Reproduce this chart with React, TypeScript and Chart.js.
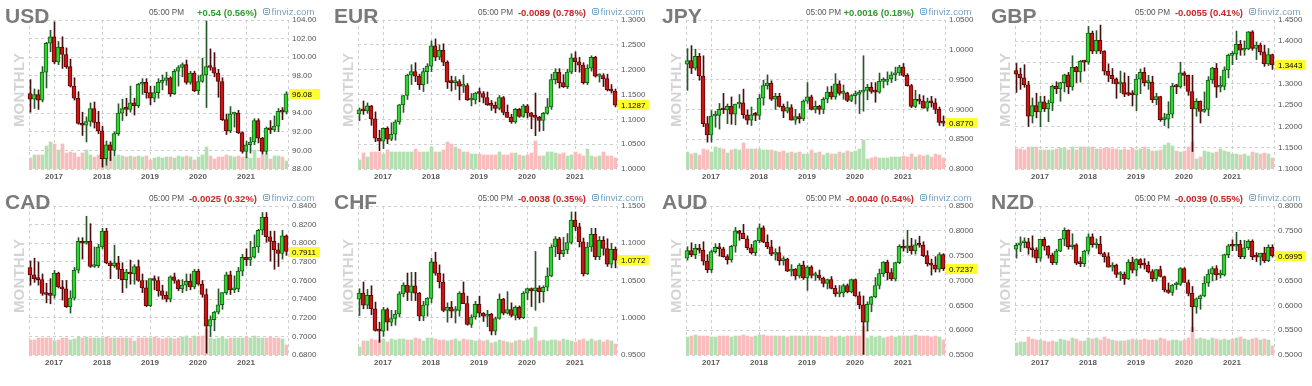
import React, { useEffect, useRef } from 'react';
import { Chart, registerables } from 'chart.js';

Chart.register(...registerables);

const FONT = "'Liberation Sans', Arial, Helvetica, sans-serif";
Chart.defaults.font.family = FONT;

// month index 0 = Jul 2016 ... 64 = Nov 2021
const YEAR_LABELS = ['2017', '2018', '2019', '2020', '2021'];
const YEAR_INDEX = [6, 18, 30, 42, 54];
const X_MIN = -0.25;
const X_MAX = 64.5;

const TICKERS = ['USD', 'EUR', 'JPY', 'GBP', 'CAD', 'CHF', 'AUD', 'NZD'];
const CHANGES = ['+0.54 (0.56%)', '-0.0089 (0.78%)', '+0.0016 (0.18%)', '-0.0055 (0.41%)', '-0.0025 (0.32%)', '-0.0038 (0.35%)', '-0.0040 (0.54%)', '-0.0039 (0.55%)'];
const CHANGE_UP = [true, false, true, false, false, false, false, false];
const LAST_TEXT = ['96.08', '1.1287', '0.8770', '1.3443', '0.7911', '1.0772', '0.7237', '0.6995'];
const DECIMALS = [2, 4, 4, 4, 4, 4, 4, 4];

const USD_TICKS = [88, 90, 92, 94, 96, 98, 100, 102, 104];
const EUR_TICKS = [1.0, 1.05, 1.1, 1.15, 1.2, 1.25, 1.3];
const JPY_TICKS = [0.8, 0.85, 0.9, 0.95, 1.0, 1.05];
const GBP_TICKS = [1.1, 1.15, 1.2, 1.25, 1.3, 1.35, 1.4, 1.45];
const CAD_TICKS = [0.68, 0.7, 0.72, 0.74, 0.76, 0.78, 0.8, 0.82, 0.84];
const CHF_TICKS = [0.95, 1.0, 1.05, 1.1, 1.15];
const AUD_TICKS = [0.55, 0.6, 0.65, 0.7, 0.75, 0.8, 0.85];
const NZD_TICKS = [0.5, 0.55, 0.6, 0.65, 0.7, 0.75, 0.8];

// [open, high, low, close] per month
const USD_OHLC = [
  [96.1, 97.6, 94.1, 95.5], [95.5, 96.6, 94.5, 96.0], [96.0, 96.5, 94.4, 95.4], [95.4, 99.0, 95.2, 98.4], [98.4, 101.6, 96.7, 101.5], [101.5, 102.9, 100.6, 102.2],
  [102.2, 103.8, 99.3, 99.5], [99.5, 101.7, 99.2, 101.1], [101.1, 102.2, 98.8, 100.3], [100.3, 101.0, 98.8, 99.0], [99.0, 99.8, 96.8, 96.9], [96.9, 97.8, 95.4, 95.6], [95.6, 96.3, 92.8, 92.9], [92.9, 94.1, 91.6, 92.7], [92.7, 93.6, 90.9, 93.1], [93.1, 95.1, 92.6, 94.5], [94.5, 95.2, 92.4, 93.0], [93.0, 94.2, 91.8, 92.1],
  [92.1, 92.6, 88.2, 89.1], [89.1, 91.0, 88.4, 90.6], [90.6, 90.9, 88.9, 90.0], [90.0, 92.0, 89.4, 91.8], [91.8, 95.0, 91.6, 94.0], [94.0, 95.5, 93.2, 94.5], [94.5, 95.6, 93.7, 94.4], [94.4, 96.9, 94.1, 95.1], [95.1, 95.6, 93.8, 94.8], [94.8, 97.2, 94.6, 97.1], [97.1, 97.7, 96.0, 97.3], [97.3, 97.7, 95.6, 96.2],
  [96.2, 96.9, 94.9, 95.6], [95.6, 96.9, 95.2, 96.2], [96.2, 97.7, 95.6, 97.3], [97.3, 98.1, 96.5, 97.5], [97.5, 98.4, 97.0, 97.8], [97.8, 97.9, 95.8, 96.1], [96.1, 98.7, 96.0, 98.5], [98.5, 99.1, 96.9, 98.9], [98.9, 99.4, 97.9, 99.2], [99.2, 99.7, 97.1, 97.3], [97.3, 98.5, 97.1, 98.3], [98.3, 98.5, 96.3, 96.4],
  [96.4, 98.0, 96.0, 97.4], [97.4, 99.9, 97.3, 98.1], [98.1, 103.9, 94.6, 99.0], [99.0, 100.9, 98.6, 98.9], [98.9, 100.5, 97.9, 98.3], [98.3, 98.7, 95.7, 97.4], [97.4, 97.8, 93.2, 93.3], [93.3, 93.9, 91.7, 92.1], [92.1, 94.7, 91.9, 93.9], [93.9, 94.1, 92.5, 94.0], [94.0, 94.3, 91.8, 91.9], [91.9, 92.0, 89.7, 89.9],
  [89.9, 91.0, 89.2, 90.6], [90.6, 91.4, 89.7, 90.9], [90.9, 93.4, 90.6, 93.2], [93.2, 93.4, 90.8, 91.3], [91.3, 91.4, 89.6, 89.9], [89.9, 92.5, 89.6, 92.4], [92.4, 93.2, 91.8, 92.2], [92.2, 93.7, 92.0, 92.6], [92.6, 94.5, 92.0, 94.2], [94.2, 94.6, 93.3, 94.1], [94.1, 96.3, 93.9, 96.08],
];
const EUR_OHLC = [
  [1.111, 1.123, 1.097, 1.119], [1.119, 1.137, 1.110, 1.117], [1.117, 1.133, 1.112, 1.127], [1.127, 1.128, 1.088, 1.101], [1.101, 1.115, 1.055, 1.062], [1.062, 1.078, 1.037, 1.056],
  [1.056, 1.083, 1.041, 1.082], [1.082, 1.085, 1.051, 1.060], [1.060, 1.093, 1.057, 1.070], [1.070, 1.098, 1.058, 1.095], [1.095, 1.130, 1.090, 1.129], [1.129, 1.148, 1.114, 1.148], [1.148, 1.191, 1.140, 1.189], [1.189, 1.210, 1.170, 1.196], [1.196, 1.214, 1.176, 1.187], [1.187, 1.191, 1.160, 1.170], [1.170, 1.203, 1.156, 1.196], [1.196, 1.212, 1.172, 1.207],
  [1.207, 1.258, 1.196, 1.248], [1.248, 1.262, 1.218, 1.225], [1.225, 1.250, 1.220, 1.239], [1.239, 1.252, 1.208, 1.215], [1.215, 1.218, 1.162, 1.175], [1.175, 1.187, 1.157, 1.174], [1.174, 1.186, 1.160, 1.176], [1.176, 1.180, 1.139, 1.167], [1.167, 1.189, 1.154, 1.168], [1.168, 1.172, 1.138, 1.139], [1.139, 1.152, 1.127, 1.139], [1.139, 1.154, 1.131, 1.153],
  [1.153, 1.163, 1.135, 1.152], [1.152, 1.156, 1.133, 1.144], [1.144, 1.155, 1.128, 1.129], [1.129, 1.138, 1.118, 1.128], [1.128, 1.135, 1.113, 1.122], [1.122, 1.148, 1.119, 1.144], [1.144, 1.146, 1.109, 1.114], [1.114, 1.129, 1.104, 1.104], [1.104, 1.110, 1.092, 1.095], [1.095, 1.122, 1.092, 1.120], [1.120, 1.122, 1.104, 1.106], [1.106, 1.130, 1.104, 1.127],
  [1.127, 1.130, 1.103, 1.113], [1.113, 1.114, 1.081, 1.106], [1.106, 1.153, 1.067, 1.104], [1.104, 1.106, 1.076, 1.098], [1.098, 1.114, 1.077, 1.112], [1.112, 1.142, 1.110, 1.125], [1.125, 1.191, 1.120, 1.180], [1.180, 1.202, 1.171, 1.195], [1.195, 1.202, 1.163, 1.174], [1.174, 1.190, 1.164, 1.166], [1.166, 1.201, 1.162, 1.195], [1.195, 1.232, 1.192, 1.224],
  [1.224, 1.236, 1.196, 1.216], [1.216, 1.225, 1.195, 1.209], [1.209, 1.214, 1.171, 1.174], [1.174, 1.210, 1.170, 1.203], [1.203, 1.228, 1.197, 1.225], [1.225, 1.227, 1.185, 1.187], [1.187, 1.192, 1.175, 1.188], [1.188, 1.192, 1.166, 1.182], [1.182, 1.191, 1.157, 1.159], [1.159, 1.170, 1.153, 1.157], [1.157, 1.161, 1.125, 1.1287],
];
const JPY_OHLC = [
  [0.976, 1.002, 0.932, 0.982], [0.982, 1.007, 0.960, 0.969], [0.969, 1.001, 0.966, 0.989], [0.989, 0.994, 0.949, 0.956], [0.956, 0.990, 0.871, 0.876], [0.876, 0.888, 0.845, 0.857],
  [0.857, 0.898, 0.845, 0.889], [0.889, 0.897, 0.870, 0.890], [0.890, 0.910, 0.867, 0.900], [0.900, 0.927, 0.893, 0.899], [0.899, 0.909, 0.876, 0.905], [0.905, 0.921, 0.875, 0.892], [0.892, 0.909, 0.874, 0.909], [0.909, 0.925, 0.902, 0.911], [0.911, 0.934, 0.885, 0.891], [0.891, 0.899, 0.875, 0.882], [0.882, 0.904, 0.873, 0.891], [0.891, 0.895, 0.881, 0.890],
  [0.890, 0.925, 0.883, 0.919], [0.919, 0.949, 0.907, 0.940], [0.940, 0.958, 0.934, 0.944], [0.944, 0.948, 0.915, 0.917], [0.917, 0.927, 0.900, 0.922], [0.922, 0.927, 0.904, 0.905], [0.905, 0.909, 0.886, 0.897], [0.897, 0.913, 0.894, 0.903], [0.903, 0.908, 0.882, 0.882], [0.882, 0.900, 0.875, 0.888], [0.888, 0.893, 0.877, 0.884], [0.884, 0.916, 0.881, 0.914],
  [0.914, 0.945, 0.910, 0.921], [0.921, 0.924, 0.899, 0.900], [0.900, 0.914, 0.894, 0.905], [0.905, 0.907, 0.892, 0.900], [0.900, 0.920, 0.893, 0.917], [0.917, 0.938, 0.911, 0.929], [0.929, 0.939, 0.917, 0.921], [0.921, 0.960, 0.917, 0.943], [0.943, 0.948, 0.924, 0.927], [0.927, 0.941, 0.917, 0.928], [0.928, 0.929, 0.913, 0.915], [0.915, 0.925, 0.913, 0.923],
  [0.923, 0.931, 0.909, 0.925], [0.925, 0.932, 0.893, 0.929], [0.929, 0.990, 0.897, 0.932], [0.932, 0.942, 0.916, 0.937], [0.937, 0.945, 0.927, 0.930], [0.930, 0.945, 0.912, 0.929], [0.929, 0.961, 0.927, 0.947], [0.947, 0.953, 0.936, 0.947], [0.947, 0.963, 0.941, 0.951], [0.951, 0.963, 0.945, 0.958], [0.958, 0.971, 0.948, 0.961], [0.961, 0.974, 0.957, 0.971],
  [0.971, 0.977, 0.955, 0.957], [0.957, 0.960, 0.939, 0.940], [0.940, 0.942, 0.903, 0.905], [0.905, 0.932, 0.903, 0.917], [0.917, 0.925, 0.909, 0.914], [0.914, 0.923, 0.902, 0.902], [0.902, 0.919, 0.897, 0.913], [0.913, 0.922, 0.904, 0.911], [0.911, 0.918, 0.893, 0.900], [0.900, 0.904, 0.873, 0.878], [0.878, 0.889, 0.872, 0.877],
];
const GBP_OHLC = [
  [1.331, 1.348, 1.280, 1.323], [1.323, 1.337, 1.287, 1.314], [1.314, 1.345, 1.292, 1.298], [1.298, 1.306, 1.200, 1.224], [1.224, 1.267, 1.208, 1.249], [1.249, 1.278, 1.220, 1.234],
  [1.234, 1.271, 1.199, 1.258], [1.258, 1.271, 1.235, 1.241], [1.241, 1.262, 1.211, 1.255], [1.255, 1.297, 1.237, 1.294], [1.294, 1.305, 1.277, 1.288], [1.288, 1.304, 1.259, 1.303], [1.303, 1.323, 1.281, 1.321], [1.321, 1.327, 1.277, 1.293], [1.293, 1.366, 1.285, 1.339], [1.339, 1.341, 1.303, 1.328], [1.328, 1.355, 1.304, 1.353], [1.353, 1.355, 1.330, 1.351],
  [1.351, 1.435, 1.346, 1.419], [1.419, 1.424, 1.371, 1.377], [1.377, 1.425, 1.371, 1.402], [1.402, 1.438, 1.371, 1.377], [1.377, 1.378, 1.321, 1.330], [1.330, 1.347, 1.305, 1.320], [1.320, 1.336, 1.301, 1.312], [1.312, 1.314, 1.266, 1.300], [1.300, 1.330, 1.279, 1.303], [1.303, 1.326, 1.270, 1.276], [1.276, 1.318, 1.272, 1.275], [1.275, 1.284, 1.248, 1.274],
  [1.274, 1.322, 1.237, 1.311], [1.311, 1.335, 1.277, 1.327], [1.327, 1.338, 1.295, 1.303], [1.303, 1.320, 1.287, 1.304], [1.304, 1.318, 1.256, 1.263], [1.263, 1.278, 1.251, 1.270], [1.270, 1.271, 1.212, 1.216], [1.216, 1.231, 1.202, 1.217], [1.217, 1.258, 1.196, 1.229], [1.229, 1.301, 1.220, 1.294], [1.294, 1.299, 1.277, 1.293], [1.293, 1.351, 1.290, 1.326],
  [1.326, 1.329, 1.296, 1.320], [1.320, 1.321, 1.273, 1.282], [1.282, 1.320, 1.141, 1.241], [1.241, 1.265, 1.224, 1.259], [1.259, 1.260, 1.208, 1.235], [1.235, 1.281, 1.233, 1.240], [1.240, 1.317, 1.225, 1.309], [1.309, 1.339, 1.301, 1.337], [1.337, 1.348, 1.268, 1.292], [1.292, 1.318, 1.281, 1.294], [1.294, 1.340, 1.286, 1.333], [1.333, 1.370, 1.314, 1.367],
  [1.367, 1.376, 1.345, 1.370], [1.370, 1.424, 1.357, 1.393], [1.393, 1.402, 1.367, 1.379], [1.379, 1.401, 1.367, 1.382], [1.382, 1.423, 1.380, 1.422], [1.422, 1.425, 1.379, 1.383], [1.383, 1.398, 1.357, 1.391], [1.391, 1.396, 1.368, 1.375], [1.375, 1.391, 1.341, 1.347], [1.347, 1.383, 1.343, 1.369], [1.369, 1.370, 1.334, 1.3443],
];
const CAD_OHLC = [
  [0.774, 0.781, 0.755, 0.766], [0.766, 0.784, 0.758, 0.762], [0.762, 0.780, 0.755, 0.761], [0.761, 0.767, 0.744, 0.746], [0.746, 0.757, 0.736, 0.745], [0.745, 0.762, 0.735, 0.744],
  [0.744, 0.771, 0.741, 0.768], [0.768, 0.769, 0.752, 0.753], [0.753, 0.760, 0.739, 0.751], [0.751, 0.760, 0.731, 0.732], [0.732, 0.749, 0.725, 0.741], [0.741, 0.774, 0.739, 0.771], [0.771, 0.806, 0.768, 0.802], [0.802, 0.806, 0.783, 0.800], [0.800, 0.829, 0.799, 0.802], [0.802, 0.821, 0.774, 0.775], [0.775, 0.796, 0.774, 0.776], [0.776, 0.799, 0.774, 0.796],
  [0.796, 0.816, 0.794, 0.813], [0.813, 0.816, 0.778, 0.779], [0.779, 0.781, 0.762, 0.776], [0.776, 0.798, 0.774, 0.779], [0.779, 0.786, 0.762, 0.772], [0.772, 0.779, 0.747, 0.761], [0.761, 0.772, 0.752, 0.769], [0.769, 0.782, 0.756, 0.767], [0.767, 0.777, 0.756, 0.775], [0.775, 0.782, 0.759, 0.760], [0.760, 0.767, 0.747, 0.752], [0.752, 0.760, 0.732, 0.733],
  [0.733, 0.762, 0.732, 0.762], [0.762, 0.765, 0.750, 0.760], [0.760, 0.764, 0.743, 0.749], [0.749, 0.755, 0.740, 0.744], [0.744, 0.748, 0.737, 0.740], [0.740, 0.765, 0.737, 0.764], [0.764, 0.768, 0.757, 0.760], [0.760, 0.761, 0.749, 0.751], [0.751, 0.761, 0.747, 0.755], [0.755, 0.767, 0.749, 0.759], [0.759, 0.767, 0.750, 0.753], [0.753, 0.772, 0.751, 0.770],
  [0.770, 0.772, 0.755, 0.756], [0.756, 0.760, 0.742, 0.745], [0.745, 0.751, 0.682, 0.711], [0.711, 0.722, 0.700, 0.718], [0.718, 0.727, 0.706, 0.726], [0.726, 0.751, 0.724, 0.734], [0.734, 0.747, 0.729, 0.747], [0.747, 0.769, 0.745, 0.766], [0.766, 0.770, 0.745, 0.750], [0.750, 0.765, 0.747, 0.751], [0.751, 0.774, 0.748, 0.770], [0.770, 0.788, 0.765, 0.785],
  [0.785, 0.794, 0.776, 0.782], [0.782, 0.802, 0.776, 0.785], [0.785, 0.809, 0.784, 0.796], [0.796, 0.815, 0.790, 0.814], [0.814, 0.833, 0.809, 0.828], [0.828, 0.833, 0.801, 0.807], [0.807, 0.813, 0.781, 0.802], [0.802, 0.813, 0.772, 0.793], [0.793, 0.800, 0.775, 0.789], [0.789, 0.814, 0.783, 0.808], [0.808, 0.809, 0.787, 0.7911],
];
const CHF_OHLC = [
  [1.025, 1.039, 1.003, 1.033], [1.033, 1.048, 1.012, 1.017], [1.017, 1.038, 1.012, 1.030], [1.030, 1.043, 1.004, 1.012], [1.012, 1.021, 0.982, 0.983], [0.983, 0.994, 0.967, 0.982],
  [0.982, 1.014, 0.975, 1.011], [1.011, 1.013, 0.983, 0.994], [0.994, 1.010, 0.989, 0.999], [0.999, 1.010, 0.990, 1.005], [1.005, 1.035, 1.001, 1.032], [1.032, 1.047, 1.028, 1.044], [1.044, 1.060, 1.023, 1.034], [1.034, 1.061, 1.023, 1.043], [1.043, 1.061, 1.023, 1.033], [1.033, 1.034, 0.996, 1.002], [1.002, 1.022, 0.996, 1.017], [1.017, 1.027, 1.002, 1.026],
  [1.026, 1.080, 1.020, 1.075], [1.075, 1.088, 1.057, 1.060], [1.060, 1.071, 1.040, 1.048], [1.048, 1.059, 1.008, 1.010], [1.010, 1.020, 0.994, 1.014], [1.014, 1.022, 1.000, 1.009], [1.009, 1.015, 0.993, 1.010], [1.010, 1.035, 1.002, 1.033], [1.033, 1.048, 1.019, 1.019], [1.019, 1.029, 0.990, 0.991], [0.991, 1.004, 0.987, 1.001], [1.001, 1.022, 0.998, 1.018],
  [1.018, 1.029, 1.001, 1.006], [1.006, 1.007, 0.995, 1.002], [1.002, 1.010, 0.988, 1.005], [1.005, 1.006, 0.977, 0.982], [0.982, 1.001, 0.977, 0.999], [0.999, 1.032, 0.998, 1.025], [1.025, 1.026, 1.004, 1.006], [1.006, 1.035, 1.005, 1.011], [1.011, 1.020, 1.001, 1.003], [1.003, 1.016, 0.997, 1.014], [1.014, 1.016, 0.998, 1.000], [1.000, 1.035, 0.999, 1.033],
  [1.033, 1.040, 1.024, 1.039], [1.039, 1.040, 1.015, 1.036], [1.036, 1.089, 1.010, 1.040], [1.040, 1.043, 1.020, 1.035], [1.035, 1.043, 1.021, 1.041], [1.041, 1.067, 1.036, 1.056], [1.056, 1.098, 1.055, 1.095], [1.095, 1.109, 1.082, 1.106], [1.106, 1.108, 1.078, 1.086], [1.086, 1.108, 1.082, 1.091], [1.091, 1.113, 1.086, 1.101], [1.101, 1.142, 1.099, 1.131],
  [1.131, 1.142, 1.117, 1.122], [1.122, 1.127, 1.095, 1.102], [1.102, 1.107, 1.056, 1.059], [1.059, 1.101, 1.058, 1.095], [1.095, 1.120, 1.089, 1.112], [1.112, 1.120, 1.078, 1.082], [1.082, 1.109, 1.078, 1.104], [1.104, 1.109, 1.084, 1.093], [1.093, 1.106, 1.069, 1.072], [1.072, 1.100, 1.067, 1.092], [1.092, 1.095, 1.067, 1.0772],
];
const AUD_OHLC = [
  [0.745, 0.768, 0.741, 0.760], [0.760, 0.776, 0.748, 0.752], [0.752, 0.773, 0.744, 0.765], [0.765, 0.773, 0.755, 0.761], [0.761, 0.778, 0.731, 0.739], [0.739, 0.752, 0.716, 0.722],
  [0.722, 0.761, 0.716, 0.758], [0.758, 0.774, 0.755, 0.767], [0.767, 0.775, 0.749, 0.764], [0.764, 0.767, 0.747, 0.748], [0.748, 0.752, 0.733, 0.742], [0.742, 0.771, 0.737, 0.769], [0.769, 0.807, 0.757, 0.800], [0.800, 0.801, 0.781, 0.795], [0.795, 0.813, 0.784, 0.784], [0.784, 0.790, 0.762, 0.766], [0.766, 0.773, 0.753, 0.756], [0.756, 0.781, 0.750, 0.780],
  [0.780, 0.814, 0.776, 0.806], [0.806, 0.810, 0.776, 0.777], [0.777, 0.792, 0.764, 0.768], [0.768, 0.781, 0.750, 0.753], [0.753, 0.764, 0.741, 0.756], [0.756, 0.768, 0.731, 0.740], [0.740, 0.748, 0.731, 0.743], [0.743, 0.745, 0.718, 0.719], [0.719, 0.732, 0.709, 0.723], [0.723, 0.724, 0.702, 0.709], [0.709, 0.734, 0.705, 0.731], [0.731, 0.739, 0.702, 0.705],
  [0.705, 0.730, 0.680, 0.727], [0.727, 0.730, 0.705, 0.710], [0.710, 0.717, 0.700, 0.711], [0.711, 0.721, 0.701, 0.705], [0.705, 0.707, 0.687, 0.694], [0.694, 0.703, 0.683, 0.702], [0.702, 0.708, 0.683, 0.684], [0.684, 0.690, 0.668, 0.673], [0.673, 0.690, 0.667, 0.675], [0.675, 0.693, 0.667, 0.690], [0.690, 0.693, 0.675, 0.677], [0.677, 0.703, 0.675, 0.702],
  [0.702, 0.703, 0.668, 0.669], [0.669, 0.677, 0.643, 0.651], [0.651, 0.669, 0.551, 0.616], [0.616, 0.657, 0.598, 0.652], [0.652, 0.668, 0.637, 0.667], [0.667, 0.706, 0.665, 0.690], [0.690, 0.723, 0.683, 0.714], [0.714, 0.738, 0.708, 0.737], [0.737, 0.741, 0.701, 0.716], [0.716, 0.724, 0.700, 0.703], [0.703, 0.737, 0.699, 0.736], [0.736, 0.772, 0.734, 0.769],
  [0.769, 0.782, 0.759, 0.765], [0.765, 0.801, 0.756, 0.770], [0.770, 0.785, 0.753, 0.760], [0.760, 0.782, 0.753, 0.772], [0.772, 0.789, 0.767, 0.771], [0.771, 0.778, 0.748, 0.750], [0.750, 0.760, 0.729, 0.734], [0.734, 0.743, 0.711, 0.731], [0.731, 0.748, 0.717, 0.723], [0.723, 0.756, 0.717, 0.752], [0.752, 0.754, 0.720, 0.7237],
];
const NZD_OHLC = [
  [0.713, 0.725, 0.695, 0.721], [0.721, 0.738, 0.708, 0.726], [0.726, 0.736, 0.716, 0.728], [0.728, 0.735, 0.703, 0.715], [0.715, 0.740, 0.697, 0.712], [0.712, 0.716, 0.686, 0.695],
  [0.695, 0.733, 0.689, 0.733], [0.733, 0.737, 0.711, 0.719], [0.719, 0.720, 0.695, 0.701], [0.701, 0.705, 0.682, 0.686], [0.686, 0.713, 0.682, 0.709], [0.709, 0.734, 0.708, 0.733], [0.733, 0.756, 0.720, 0.751], [0.751, 0.752, 0.713, 0.718], [0.718, 0.744, 0.713, 0.722], [0.722, 0.724, 0.682, 0.685], [0.685, 0.697, 0.678, 0.684], [0.684, 0.711, 0.678, 0.709],
  [0.709, 0.744, 0.703, 0.738], [0.738, 0.744, 0.717, 0.722], [0.722, 0.734, 0.715, 0.723], [0.723, 0.739, 0.703, 0.704], [0.704, 0.707, 0.687, 0.698], [0.698, 0.706, 0.677, 0.677], [0.677, 0.686, 0.669, 0.681], [0.681, 0.683, 0.656, 0.662], [0.662, 0.668, 0.650, 0.663], [0.663, 0.667, 0.642, 0.653], [0.653, 0.692, 0.652, 0.687], [0.687, 0.697, 0.665, 0.671],
  [0.671, 0.694, 0.659, 0.692], [0.692, 0.694, 0.675, 0.682], [0.682, 0.694, 0.673, 0.681], [0.681, 0.688, 0.665, 0.668], [0.668, 0.672, 0.648, 0.653], [0.653, 0.672, 0.649, 0.672], [0.672, 0.679, 0.657, 0.658], [0.658, 0.659, 0.627, 0.631], [0.631, 0.645, 0.624, 0.626], [0.626, 0.642, 0.620, 0.641], [0.641, 0.647, 0.632, 0.642], [0.642, 0.676, 0.640, 0.674],
  [0.674, 0.676, 0.646, 0.646], [0.646, 0.651, 0.619, 0.624], [0.624, 0.638, 0.547, 0.597], [0.597, 0.615, 0.584, 0.613], [0.613, 0.621, 0.592, 0.619], [0.619, 0.658, 0.617, 0.645], [0.645, 0.672, 0.638, 0.663], [0.663, 0.678, 0.649, 0.674], [0.674, 0.680, 0.651, 0.661], [0.661, 0.671, 0.655, 0.661], [0.661, 0.703, 0.659, 0.702], [0.702, 0.723, 0.696, 0.720],
  [0.720, 0.732, 0.710, 0.719], [0.719, 0.747, 0.710, 0.723], [0.723, 0.731, 0.694, 0.698], [0.698, 0.731, 0.694, 0.716], [0.716, 0.732, 0.712, 0.729], [0.729, 0.732, 0.692, 0.698], [0.698, 0.706, 0.688, 0.697], [0.697, 0.705, 0.681, 0.705], [0.705, 0.717, 0.686, 0.690], [0.690, 0.722, 0.688, 0.717], [0.717, 0.722, 0.697, 0.6995],
];

// relative monthly volume
const USD_VOL = [110, 140, 140, 140, 230, 270, 250, 190, 250, 160, 170, 160, 120, 160, 190, 140, 120, 140, 150, 230, 170, 120, 140, 130, 120, 130, 120, 130, 120, 130, 90, 110, 120, 110, 120, 120, 110, 130, 120, 130, 120, 90, 120, 140, 220, 130, 100, 120, 120, 140, 130, 120, 130, 120, 120, 110, 190, 110, 140, 150, 100, 130, 130, 120, 80];
const EUR_VOL = [90, 160, 120, 170, 170, 170, 150, 190, 170, 170, 170, 170, 170, 170, 200, 170, 170, 170, 220, 170, 170, 190, 270, 250, 220, 200, 170, 170, 150, 150, 150, 140, 140, 140, 140, 170, 140, 140, 160, 160, 140, 130, 140, 160, 280, 130, 130, 170, 170, 160, 150, 160, 130, 140, 170, 150, 130, 200, 130, 120, 130, 170, 130, 130, 110];
const JPY_VOL = [170, 150, 160, 140, 200, 190, 170, 220, 210, 200, 160, 190, 200, 190, 260, 200, 200, 200, 200, 190, 190, 190, 180, 170, 180, 160, 170, 160, 170, 150, 150, 190, 160, 170, 140, 160, 150, 150, 170, 160, 180, 170, 180, 200, 290, 100, 110, 120, 110, 110, 110, 120, 120, 120, 130, 120, 150, 120, 140, 130, 140, 120, 150, 140, 110];
const GBP_VOL = [200, 200, 190, 220, 220, 220, 190, 190, 190, 190, 200, 210, 210, 190, 220, 190, 220, 220, 220, 220, 200, 200, 210, 210, 200, 200, 190, 200, 190, 210, 190, 200, 220, 200, 180, 180, 190, 240, 260, 230, 180, 170, 180, 220, 270, 100, 120, 180, 170, 160, 170, 200, 180, 170, 150, 150, 140, 150, 130, 170, 160, 150, 160, 150, 110];
const CAD_VOL = [150, 150, 170, 170, 170, 170, 140, 150, 170, 170, 150, 160, 180, 170, 180, 170, 170, 170, 170, 180, 170, 170, 170, 170, 170, 170, 140, 170, 170, 170, 170, 180, 170, 160, 170, 170, 160, 170, 180, 190, 170, 190, 180, 190, 260, 170, 160, 170, 180, 160, 170, 170, 170, 170, 180, 170, 190, 170, 170, 170, 180, 170, 170, 160, 100];
const CHF_VOL = [80, 140, 140, 160, 150, 150, 160, 130, 160, 150, 160, 160, 150, 150, 170, 160, 140, 170, 170, 160, 150, 150, 140, 150, 160, 140, 160, 150, 150, 140, 150, 140, 150, 120, 130, 150, 140, 130, 120, 140, 150, 140, 150, 170, 280, 140, 150, 140, 150, 150, 140, 160, 150, 140, 130, 150, 160, 140, 160, 140, 150, 130, 150, 140, 110];
const AUD_VOL = [180, 190, 200, 190, 190, 190, 180, 180, 190, 190, 190, 180, 190, 190, 200, 190, 180, 190, 200, 200, 190, 190, 190, 190, 190, 180, 190, 190, 190, 190, 190, 190, 190, 190, 180, 180, 190, 180, 190, 180, 190, 190, 190, 190, 290, 170, 190, 180, 190, 170, 180, 190, 180, 190, 190, 190, 190, 200, 190, 190, 190, 180, 190, 180, 150];
const NZD_VOL = [120, 130, 130, 180, 160, 150, 150, 140, 130, 140, 130, 160, 150, 140, 170, 160, 140, 140, 170, 160, 170, 150, 180, 160, 150, 140, 140, 140, 150, 160, 150, 150, 160, 150, 150, 150, 170, 160, 140, 150, 150, 140, 150, 170, 280, 160, 170, 160, 150, 170, 160, 150, 160, 150, 160, 170, 180, 160, 150, 160, 170, 150, 160, 150, 90];
const VOL_AXIS_MAX = 1490;

const PANEL_DATA = [
  { ohlc: USD_OHLC, vol: USD_VOL, ticks: USD_TICKS },
  { ohlc: EUR_OHLC, vol: EUR_VOL, ticks: EUR_TICKS },
  { ohlc: JPY_OHLC, vol: JPY_VOL, ticks: JPY_TICKS },
  { ohlc: GBP_OHLC, vol: GBP_VOL, ticks: GBP_TICKS },
  { ohlc: CAD_OHLC, vol: CAD_VOL, ticks: CAD_TICKS },
  { ohlc: CHF_OHLC, vol: CHF_VOL, ticks: CHF_TICKS },
  { ohlc: AUD_OHLC, vol: AUD_VOL, ticks: AUD_TICKS },
  { ohlc: NZD_OHLC, vol: NZD_VOL, ticks: NZD_TICKS },
];

const COL_X = [0, 329, 657, 986];
const ROW_Y = [0, 186];
const PW = 328;
const PH = 186;

const UP_FILL = '#2fd42f';
const UP_EDGE = '#17601a';
const DN_FILL = '#cc1414';
const DN_EDGE = '#5a0808';
const UP_WICK = '#25582a';
const DN_WICK = '#4a0e0e';
const VOL_UP = '#b3e0b0';
const VOL_DN = '#fabcbc';
const GRID = '#cfcfcf';

const lastLabelPlugin = {
  id: 'lastLabel',
  afterDraw(chart: any, _args: any, opts: any) {
    const { ctx, chartArea, scales } = chart;
    const y = Math.round(scales.y.getPixelForValue(opts.value));
    ctx.save();
    ctx.fillStyle = '#ffff2e';
    ctx.fillRect(chartArea.right + 1, y - 5, 31, 10);
    ctx.fillStyle = '#000';
    ctx.font = `8px ${FONT}`;
    ctx.textBaseline = 'middle';
    ctx.textAlign = 'left';
    ctx.fillText(opts.text, chartArea.right + 4, y + 0.5);
    ctx.restore();
  },
};

function Panel({ idx }: { idx: number }) {
  const ref = useRef<HTMLCanvasElement | null>(null);
  useEffect(() => {
    const p = PANEL_DATA[idx];
    const up = p.ohlc.map((r) => r[3] >= r[0]);
    const dec = DECIMALS[idx];
    const xTicks = [X_MIN, ...YEAR_INDEX, X_MAX];
    const chart = new Chart(ref.current as HTMLCanvasElement, {
      type: 'bar',
      data: {
        datasets: [
          {
            label: 'body',
            data: p.ohlc.map((r, i) => ({ x: i, y: [r[0], r[3]] })) as any,
            xAxisID: 'x',
            yAxisID: 'y',
            backgroundColor: up.map((u) => (u ? UP_FILL : DN_FILL)),
            borderColor: up.map((u) => (u ? UP_EDGE : DN_EDGE)),
            borderWidth: 1,
            borderSkipped: false,
            barThickness: 4,
            minBarLength: 2,
            grouped: false,
            clip: false as any,
            order: 1,
          },
          {
            label: 'wick',
            data: p.ohlc.map((r, i) => ({ x: i, y: [r[2], r[1]] })) as any,
            xAxisID: 'xw',
            yAxisID: 'y',
            backgroundColor: up.map((u) => (u ? UP_WICK : DN_WICK)),
            borderWidth: 0,
            barThickness: 1,
            grouped: false,
            clip: false as any,
            order: 2,
          },
          {
            label: 'volume',
            data: p.vol.map((v, i) => ({ x: i, y: v })) as any,
            xAxisID: 'xw',
            yAxisID: 'yv',
            backgroundColor: up.map((u) => (u ? VOL_UP : VOL_DN)),
            borderWidth: 0,
            barThickness: 3,
            grouped: false,
            order: 3,
          },
        ],
      },
      options: {
        responsive: false,
        maintainAspectRatio: false,
        animation: false,
        events: [],
        layout: { padding: { left: 29, top: 20, right: 0, bottom: 0 } },
        plugins: {
          legend: { display: false },
          tooltip: { enabled: false },
          lastLabel: { value: p.ohlc[p.ohlc.length - 1][3], text: LAST_TEXT[idx] },
        } as any,
        scales: {
          x: {
            type: 'linear',
            min: X_MIN,
            max: X_MAX,
            offset: false,
            afterBuildTicks: (s: any) => {
              s.ticks = xTicks.map((v) => ({ value: v }));
            },
            afterFit: (s: any) => {
              s.height = 17;
            },
            ticks: {
              autoSkip: false,
              maxRotation: 0,
              padding: 3,
              color: '#5a5a5a',
              font: { size: 8, weight: 'bold' },
              callback: (v: any) => {
                const k = YEAR_INDEX.indexOf(Number(v));
                return k >= 0 ? YEAR_LABELS[k] : '';
              },
            },
            grid: { color: GRID, drawTicks: false, offset: false, lineWidth: 1 },
            border: { display: false, dash: [3, 3] },
          },
          xw: {
            type: 'linear',
            display: false,
            min: X_MIN - 0.125,
            max: X_MAX - 0.125,
            offset: false,
            grid: { offset: false },
          },
          y: {
            type: 'linear',
            position: 'right',
            min: p.ticks[0],
            max: p.ticks[p.ticks.length - 1],
            afterBuildTicks: (s: any) => {
              s.ticks = p.ticks.map((v) => ({ value: v }));
            },
            afterFit: (s: any) => {
              s.width = 40;
            },
            ticks: {
              autoSkip: false,
              padding: 4,
              color: '#555',
              font: { size: 8 },
              callback: (v: any) => Number(v).toFixed(dec),
            },
            grid: { color: GRID, drawTicks: false, lineWidth: 1 },
            border: { display: false, dash: [3, 3] },
          },
          yv: {
            type: 'linear',
            display: false,
            min: 0,
            max: VOL_AXIS_MAX,
          },
        } as any,
      },
      plugins: [lastLabelPlugin as any],
    });
    return () => chart.destroy();
  }, [idx]);

  const col = idx % 4;
  const row = Math.floor(idx / 4);
  const changeColor = CHANGE_UP[idx] ? '#2f9a2f' : '#c62626';
  const linkColor = '#7aa4c4';
  return (
    <div style={{ position: 'absolute', left: COL_X[col], top: ROW_Y[row], width: PW, height: PH, background: '#fff' }}>
      <canvas ref={ref} width={PW} height={PH} style={{ position: 'absolute', left: 0, top: 0, width: PW, height: PH }} />
      <div style={{ position: 'absolute', left: 5, top: 5, font: `bold 21px ${FONT}`, lineHeight: '21px', color: '#7a7a7a', whiteSpace: 'nowrap' }}>
        {TICKERS[idx]}
      </div>
      <div
        style={{
          position: 'absolute',
          left: 17.5,
          top: 90,
          transform: 'translate(-50%, -50%) rotate(-90deg)',
          font: `bold 15px ${FONT}`,
          lineHeight: '15px',
          letterSpacing: '0.2px',
          color: '#d4d4d4',
          whiteSpace: 'nowrap',
        }}
      >
        MONTHLY
      </div>
      <div style={{ position: 'absolute', left: 149, top: 8.3, font: `8.2px ${FONT}`, lineHeight: '10px', color: '#555', whiteSpace: 'nowrap' }}>
        05:00 PM
      </div>
      <div style={{ position: 'absolute', right: PW - 257, top: 8, font: `bold 9.5px ${FONT}`, lineHeight: '10px', color: changeColor, whiteSpace: 'nowrap' }}>
        {CHANGES[idx]}
      </div>
      <div
        style={{
          position: 'absolute',
          left: 263,
          top: 8,
          width: 5,
          height: 5,
          border: `1px solid ${linkColor}`,
          borderRadius: 2,
          background: `linear-gradient(${linkColor}, ${linkColor}) center 1px / 3px 1px no-repeat, linear-gradient(${linkColor}, ${linkColor}) center 3px / 3px 1px no-repeat`,
        }}
      />
      <div style={{ position: 'absolute', left: 271.5, top: 6.5, font: `9.7px ${FONT}`, lineHeight: '10px', color: linkColor, whiteSpace: 'nowrap' }}>
        finviz.com
      </div>
    </div>
  );
}

export default function App() {
  return (
    <div style={{ position: 'absolute', left: 0, top: 0, width: 1312, height: 386, background: '#fff', overflow: 'hidden' }}>
      {TICKERS.map((t, i) => (
        <Panel key={t} idx={i} />
      ))}
    </div>
  );
}
